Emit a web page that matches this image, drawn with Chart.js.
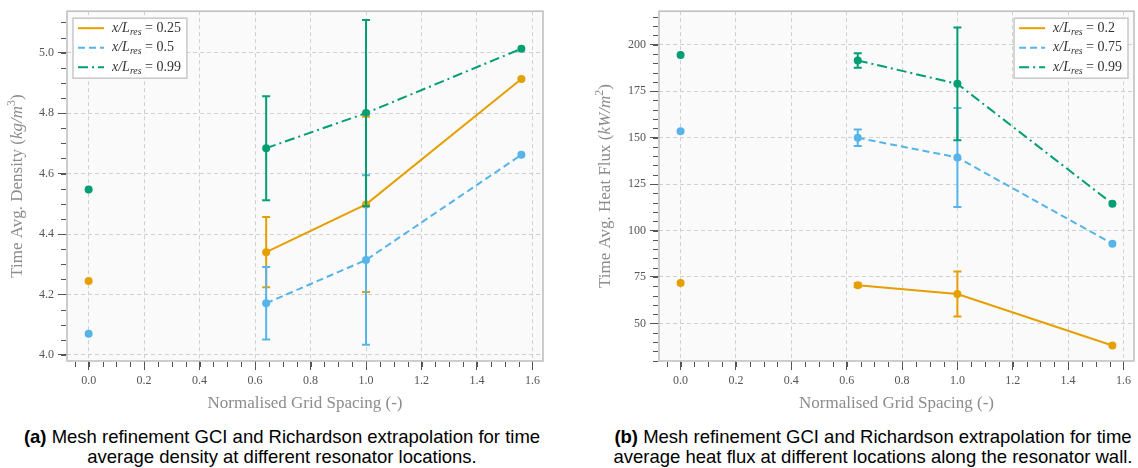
<!DOCTYPE html>
<html>
<head>
<meta charset="utf-8">
<script src="https://cdn.jsdelivr.net/npm/chart.js@4.4.0/dist/chart.umd.min.js"></script>
<style>
  body { margin: 0; background: #fff; width: 1138px; height: 468px; overflow: hidden; position: relative; }
  .panel { position: absolute; top: 0; width: 569px; height: 415px; }
  .cap { position: absolute; width: 600px; font-family: "Liberation Sans", Arial, sans-serif; font-size: 18.5px; line-height: 20px; color: #000; text-align: center; white-space: nowrap; }
</style>
</head>
<body>
<div class="panel" style="left:0"><canvas id="density" width="569" height="415"></canvas></div>
<div class="panel" style="left:569px"><canvas id="heatflux" width="569" height="415"></canvas></div>
<div class="cap" style="left:-18px; top:427px"><b>(a)</b> Mesh refinement GCI and Richardson extrapolation for time<br>average density at different resonator locations.</div>
<div class="cap" style="left:573px; top:427px"><b>(b)</b> Mesh refinement GCI and Richardson extrapolation for time<br>average heat flux at different locations along the resonator wall.</div>
<script>
// grid spacing of the three meshes, extrapolated value sits at 0
const gridSpacing = [0.64, 1.0, 1.56];
const extrapX = 0;
const xTicks = [0, 0.2, 0.4, 0.6, 0.8, 1.0, 1.2, 1.4, 1.6];

// (a) density, kg/m^3
const densityLocs = ['0.25', '0.5', '0.99'];
const density025 = [4.34, 4.498, 4.913];
const density050 = [4.171, 4.314, 4.662];
const density099 = [4.684, 4.80, 5.013];
const densityErr025 = [0.116, 0.29, 0];
const densityErr050 = [0.12, 0.28, 0];
const densityErr099 = [0.172, 0.308, 0];
const densityExtrap = [4.245, 4.07, 4.547];
const densityTicks = [4.0, 4.2, 4.4, 4.6, 4.8, 5.0];

// (b) heat flux, kW/m^2
const heatLocs = ['0.2', '0.75', '0.99'];
const heat020 = [70.6, 65.8, 38.1];
const heat075 = [149.9, 139.3, 92.9];
const heat099 = [191.5, 178.9, 114.4];
const heatErr020 = [1.0, 12.1, 0];
const heatErr075 = [4.4, 26.6, 0];
const heatErr099 = [3.9, 30.3, 0];
const heatExtrap = [71.7, 153.4, 194.5];
const heatTicks = [50, 75, 100, 125, 150, 175, 200];

const colors = ['#E69F00', '#56B4E9', '#009E73'];
const dashes = [[], [7, 4], [10, 4, 2, 4]];
const SERIF = '"Liberation Serif", "DejaVu Serif", serif';

function pts(ys) {
  return ys.map((y, i) => ({ x: gridSpacing[i], y: y }));
}

// draw text made of parts (italic / sub / sup), returns width
function rich(ctx, parts, x, y, size, draw) {
  let cx = x;
  for (const p of parts) {
    const fs = (p.sub || p.sup) ? size * 0.7 : size;
    ctx.font = (p.it ? 'italic ' : '') + fs + 'px ' + SERIF;
    const dy = p.sub ? size * 0.28 : (p.sup ? -size * 0.38 : 0);
    if (draw) ctx.fillText(p.t, cx, y + dy);
    cx += ctx.measureText(p.t).width;
  }
  return cx - x;
}

const frame = {
  id: 'frame',
  beforeDraw(chart) {
    const { ctx, chartArea: a } = chart;
    ctx.save();
    ctx.fillStyle = '#fafafa';
    ctx.fillRect(a.left, a.top, a.right - a.left, a.bottom - a.top);
    ctx.restore();
  },
  afterDatasetsDraw(chart) {
    const ctx = chart.ctx;
    const ys = chart.scales.y;
    chart.data.datasets.forEach((ds, i) => {
      if (!ds.errors) return;
      const meta = chart.getDatasetMeta(i);
      ctx.save();
      ctx.strokeStyle = ds.borderColor;
      ctx.lineWidth = 2;
      meta.data.forEach((el, j) => {
        const e = ds.errors[j];
        if (!e) return;
        const v = ds.data[j].y;
        const top = ys.getPixelForValue(v + e);
        const bot = ys.getPixelForValue(v - e);
        ctx.beginPath();
        ctx.moveTo(el.x, top); ctx.lineTo(el.x, bot);
        ctx.moveTo(el.x - 4, top); ctx.lineTo(el.x + 4, top);
        ctx.moveTo(el.x - 4, bot); ctx.lineTo(el.x + 4, bot);
        ctx.stroke();
      });
      ctx.restore();
    });
  },
  afterDraw(chart, args, opts) {
    const { ctx, chartArea: a, scales } = chart;
    ctx.save();
    // box
    ctx.strokeStyle = '#bdbdbd';
    ctx.lineWidth = 1.5;
    ctx.strokeRect(a.left, a.top, a.right - a.left, a.bottom - a.top);

    // minor ticks
    ctx.strokeStyle = '#555';
    ctx.lineWidth = 1;
    ctx.beginPath();
    const xs = scales.x, ysc = scales.y;
    for (let k = Math.ceil(xs.min / opts.xMinor); k * opts.xMinor <= xs.max; k++) {
      const px = Math.round(xs.getPixelForValue(k * opts.xMinor)) + 0.5;
      ctx.moveTo(px, a.bottom + 1); ctx.lineTo(px, a.bottom + 6);
    }
    for (let k = Math.ceil(ysc.min / opts.yMinor); k * opts.yMinor <= ysc.max; k++) {
      const py = Math.round(ysc.getPixelForValue(k * opts.yMinor)) + 0.5;
      ctx.moveTo(a.left - 1, py); ctx.lineTo(a.left - 6, py);
    }
    ctx.stroke();

    // y title
    ctx.fillStyle = '#8c8c8c';
    ctx.textBaseline = 'middle';
    ctx.textAlign = 'left';
    const w = rich(ctx, opts.yTitle, 0, 0, 17, false);
    ctx.translate(opts.yTitleX, (a.top + a.bottom) / 2);
    ctx.rotate(-Math.PI / 2);
    rich(ctx, opts.yTitle, -w / 2, 0, 17, true);
    ctx.restore();

    // legend
    ctx.save();
    const items = chart.data.datasets.filter(d => d.errors);
    let tw = 0;
    items.forEach(d => { tw = Math.max(tw, rich(ctx, d.legendParts, 0, 0, 14, false)); });
    const bw = 39 + tw + 6, bh = 60;
    const bx = opts.legendRight ? a.right - 6 - bw : a.left + 6;
    const by = a.top + 7;
    ctx.fillStyle = 'rgba(255,255,255,0.85)';
    ctx.fillRect(bx, by, bw, bh);
    ctx.strokeStyle = '#c8c8c8';
    ctx.lineWidth = 1.5;
    ctx.strokeRect(bx, by, bw, bh);
    items.forEach((d, i) => {
      const ry = by + 10 + i * 19.5;
      ctx.strokeStyle = d.borderColor;
      ctx.lineWidth = 2;
      ctx.setLineDash(d.borderDash);
      ctx.beginPath();
      ctx.moveTo(bx + 5, ry); ctx.lineTo(bx + 31, ry);
      ctx.stroke();
      ctx.setLineDash([]);
      ctx.fillStyle = '#333';
      ctx.textBaseline = 'middle';
      rich(ctx, d.legendParts, bx + 39, ry, 14, true);
    });
    ctx.restore();
  }
};

function legendParts(loc) {
  return [{ t: 'x/L', it: true }, { t: 'res', it: true, sub: true }, { t: ' = ' + loc }];
}

function makeChart(id, series, errs, locs, extrap, yCfg) {
  const datasets = series.map((s, i) => ({
    data: pts(s),
    errors: errs[i],
    legendParts: legendParts(locs[i]),
    borderColor: colors[i],
    backgroundColor: colors[i],
    borderDash: dashes[i],
    borderWidth: 2,
    pointRadius: 4,
    pointBorderWidth: 0,
    showLine: true
  }));
  datasets.push({
    data: extrap.map(y => ({ x: extrapX, y: y })),
    pointBackgroundColor: colors,
    pointBorderWidth: 0,
    pointRadius: 4,
    showLine: false
  });

  const tickFont = { family: SERIF, size: 12 };
  return new Chart(document.getElementById(id), {
    type: 'line',
    data: { datasets: datasets },
    plugins: [frame],
    options: {
      responsive: false,
      animation: false,
      events: [],
      layout: { padding: { top: 5, right: yCfg.padRight, bottom: 0, left: 0 } },
      plugins: {
        legend: { display: false },
        tooltip: { enabled: false },
        frame: {
          xMinor: 0.05, yMinor: yCfg.minor,
          yTitle: yCfg.title, yTitleX: yCfg.titleX,
          legendRight: yCfg.legendRight
        }
      },
      scales: {
        x: {
          type: 'linear',
          min: -0.078, max: 1.638,
          afterBuildTicks: s => { s.ticks = xTicks.map(v => ({ value: v })); },
          afterFit: s => { s.height = 54; },
          ticks: { font: tickFont, color: '#555', padding: 4, maxRotation: 0,
            callback: v => v.toFixed(1) },
          grid: { color: '#d0d0d0', tickColor: '#555', tickLength: 9 },
          border: { display: false, dash: [4, 3] },
          title: { display: true, text: 'Normalised Grid Spacing (-)', color: '#8c8c8c',
            font: { family: SERIF, size: 17 }, padding: { top: 0, bottom: 1 } }
        },
        y: {
          type: 'linear',
          min: yCfg.min, max: yCfg.max,
          afterBuildTicks: s => { s.ticks = yCfg.ticks.map(v => ({ value: v })); },
          afterFit: s => { s.width = yCfg.width; },
          ticks: { font: tickFont, color: '#555', padding: 4, callback: yCfg.fmt },
          grid: { color: '#d0d0d0', tickColor: '#555', tickLength: 9 },
          border: { display: false, dash: [4, 3] }
        }
      }
    }
  });
}

makeChart('density',
  [density025, density050, density099],
  [densityErr025, densityErr050, densityErr099],
  densityLocs, densityExtrap,
  {
    min: 3.98, max: 5.137, ticks: densityTicks, minor: 0.05, width: 67, padRight: 26,
    fmt: v => v.toFixed(1), titleX: 18, legendRight: false,
    title: [{ t: 'Time Avg. Density ' }, { t: '(' }, { t: 'kg/m', it: true }, { t: '3', sup: true }, { t: ')' }]
  });

makeChart('heatflux',
  [heat020, heat075, heat099],
  [heatErr020, heatErr075, heatErr099],
  heatLocs, heatExtrap,
  {
    min: 29.8, max: 218, ticks: heatTicks, minor: 5, width: 90, padRight: 3,
    fmt: v => String(v), titleX: 37, legendRight: true,
    title: [{ t: 'Time Avg. Heat Flux ' }, { t: '(' }, { t: 'kW/m', it: true }, { t: '2', sup: true }, { t: ')' }]
  });
</script>
</body>
</html>
